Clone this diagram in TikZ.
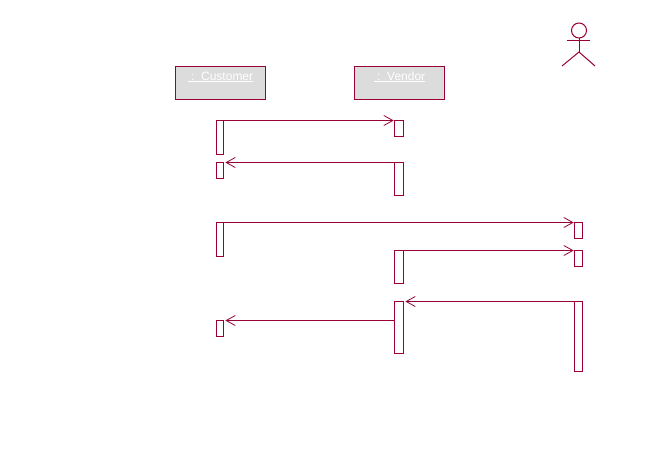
\documentclass[tikz,border=0pt]{standalone}
\usepackage{fontspec}
\setmainfont{Liberation Sans}
\usetikzlibrary{arrows.meta}
\definecolor{umlred}{HTML}{990033}
\definecolor{umlgray}{HTML}{DCDCDC}
\newcommand{\objname}[1]{\sbox0{\ :\ \ #1}\rlap{\rule[-0.9pt]{\wd0}{0.6pt}}\usebox0}
\tikzset{
  objlabel/.style={text=white,font=\fontsize{9pt}{11pt}\selectfont,inner sep=0pt,anchor=base,yshift=-10.5pt},
  objbox/.style={draw=umlred,fill=umlgray,line width=0.75pt,rectangle,inner sep=0pt,outer sep=0pt,
    minimum width=67.5pt,minimum height=24.75pt,anchor=north west},
  actbar/.style={draw=umlred,fill=white,line width=0.75pt,rectangle,inner sep=0pt,outer sep=0pt,anchor=north west},
  msg/.style={draw=umlred,line width=0.75pt,-{Straight Barb[length=6.8pt,width=7.5pt,line width=0.6pt]}},
  actorline/.style={draw=umlred,line width=0.75pt}
}
% name, left x, top y, width, height (pixels)
\newcommand{\actbox}[5]{\node[actbar,minimum width=#4*0.75pt,minimum height=#5*0.75pt] (#1) at (#2,#3) {};}
\begin{document}
\begin{tikzpicture}[x=0.75pt,y=-0.75pt]
\useasboundingbox (0,0) rectangle (664,449);

\node[objbox,label={[objlabel]north:\objname{Customer}}] (cust) at (175.5,66.5) {};
\node[objbox,label={[objlabel]north:\objname{Vendor}}] (vend) at (354.5,66.5) {};

% actor
\node[draw=umlred,line width=0.75pt,circle,inner sep=0pt,outer sep=0pt,minimum size=11.25pt] (head) at (579,30.5) {};
\coordinate (hip) at (579,52);
\coordinate (armL) at (567,41);
\coordinate (armR) at (590,41);
\coordinate (legL) at (562,66);
\coordinate (legR) at (595,66);
\draw[actorline] (head.south) -- (hip);
\draw[actorline] (armL) -- (armR);
\draw[actorline] (legL) -- (hip) -- (legR);

% activation bars
\actbox{ca}{216.5}{120.5}{7}{34}
\actbox{cb}{216.5}{162.5}{7}{16}
\actbox{cc}{216.5}{222.5}{7}{34}
\actbox{cd}{216.5}{320.5}{7}{16}
\actbox{va}{394.5}{120.5}{9}{16}
\actbox{vb}{394.5}{162.5}{9}{33}
\actbox{vc}{394.5}{250.5}{9}{33}
\actbox{vd}{394.5}{301.5}{9}{52}
\actbox{ra}{574.5}{222.5}{8}{16}
\actbox{rb}{574.5}{250.5}{8}{16}
\actbox{rc}{574.5}{301.5}{8}{70}

% messages
\draw[msg,shorten >=0.6pt] (ca.north east) -- (va.north west);
\draw[msg,shorten >=1.4pt] (vb.north west) -- (cb.north east);
\draw[msg,shorten >=0.6pt] (cc.north east) -- (ra.north west);
\draw[msg,shorten >=0.6pt] (vc.north east) -- (rb.north west);
\draw[msg,shorten >=1.4pt] (rc.north west) -- (vd.north east);
\draw[msg,shorten >=1.4pt] (vd.west |- cd.north) -- (cd.north east);
\end{tikzpicture}
\end{document}
